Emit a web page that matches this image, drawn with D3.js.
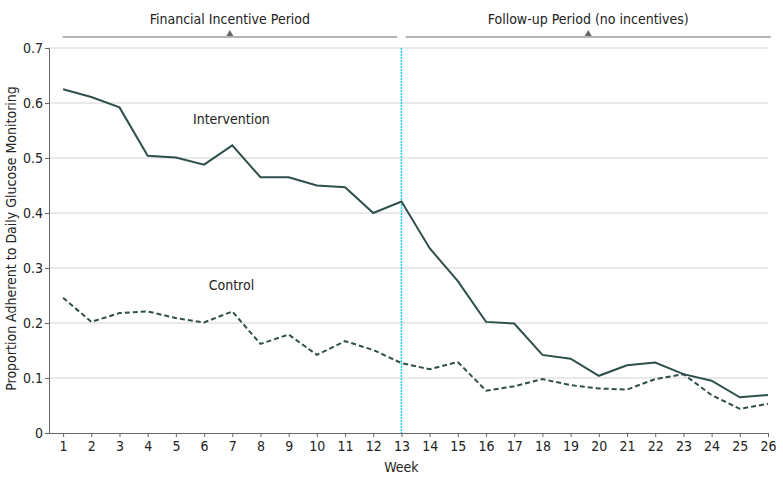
<!doctype html>
<html lang="en">
<head>
  <meta charset="utf-8">
  <title>Glucose Monitoring Adherence</title>
  <script src="https://cdnjs.cloudflare.com/ajax/libs/d3/7.8.5/d3.min.js"></script>
  <style>
    body { margin: 0; background: #fff; }
    svg text { font-family: "DejaVu Sans Condensed", "Liberation Sans", sans-serif; fill: #222; }
  </style>
</head>
<body>
  <div id="chart"></div>
  <script>

// data
var weeks = d3.range(1, 27);
var intervention = [0.625, 0.611, 0.592, 0.504, 0.501, 0.488, 0.523, 0.465, 0.465, 0.450,
                    0.447, 0.400, 0.421, 0.336, 0.276, 0.202, 0.199, 0.142, 0.135, 0.104,
                    0.123, 0.128, 0.107, 0.095, 0.065, 0.069];
var control = [0.246, 0.202, 0.218, 0.221, 0.209, 0.201, 0.221, 0.162, 0.179, 0.142,
               0.167, 0.151, 0.127, 0.116, 0.129, 0.077, 0.085, 0.098, 0.087, 0.081,
               0.079, 0.098, 0.107, 0.069, 0.044, 0.053];
var yTicks = [0, 0.1, 0.2, 0.3, 0.4, 0.5, 0.6, 0.7];
var periods = [
  {label: "Financial Incentive Period", from: 0.98, to: 12.85},
  {label: "Follow-up Period (no incentives)", from: 13.15, to: 26.1}
];
var splitWeek = 13;

var margin = {top: 48, right: 15, bottom: 53, left: 49},
    width = 783 - margin.left - margin.right,
    height = 486 - margin.top - margin.bottom;

var svg = d3.select("#chart")
  .append("svg")
    .attr("width", 783)
    .attr("height", 486)
  .append("g")
    .attr("transform", "translate(" + margin.left + "," + margin.top + ")");

var x = d3.scaleLinear().domain([0.5, 26]).range([0, 719]);
var y = d3.scaleLinear().domain([0, 0.7]).range([height, 0]);

// gridlines
svg.append("g")
  .selectAll("line")
  .data(yTicks.slice(1))
  .enter()
  .append("line")
    .attr("x1", 0)
    .attr("x2", x(26))
    .attr("y1", function(d) { return y(d); })
    .attr("y2", function(d) { return y(d); })
    .attr("stroke", "#d4d4d4")
    .attr("stroke-width", 1.2);

// y axis
var yAxis = svg.append("g")
  .call(d3.axisLeft(y).tickValues(yTicks).tickFormat(function(d) { return d === 0 ? "0" : d3.format(".1f")(d); }).tickSize(4));
yAxis.selectAll("text").style("font-size", "14px").attr("x", -6);
yAxis.selectAll("line, path").attr("stroke", "#666");

// x axis
var xAxis = svg.append("g")
  .attr("transform", "translate(0," + height + ")")
  .call(d3.axisBottom(x).tickValues(weeks).tickFormat(d3.format("d")).tickSize(4).tickSizeOuter(0));
xAxis.selectAll("text").style("font-size", "14px").attr("y", 8);
xAxis.selectAll("line, path").attr("stroke", "#666");

// split marker
svg.append("line")
  .attr("x1", x(splitWeek)).attr("x2", x(splitWeek))
  .attr("y1", y(0.7)).attr("y2", height)
  .attr("stroke", "#1ccfe6")
  .attr("stroke-width", 1.5)
  .attr("stroke-dasharray", "2,1");

// lines
var line = d3.line()
  .x(function(d, i) { return x(weeks[i]); })
  .y(function(d) { return y(d); });

svg.append("path")
  .datum(control)
  .attr("d", line)
  .attr("fill", "none")
  .attr("stroke", "#2e504c")
  .attr("stroke-width", 2)
  .attr("stroke-dasharray", "5,3");

svg.append("path")
  .datum(intervention)
  .attr("d", line)
  .attr("fill", "none")
  .attr("stroke", "#2e504c")
  .attr("stroke-width", 2);

// series labels
svg.append("text")
  .attr("x", x(6.97)).attr("y", y(0.562))
  .attr("text-anchor", "middle")
  .style("font-size", "14px")
  .text("Intervention");
svg.append("text")
  .attr("x", x(6.97)).attr("y", y(0.26))
  .attr("text-anchor", "middle")
  .style("font-size", "14px")
  .text("Control");

// period banner
var banner = svg.selectAll(".period")
  .data(periods)
  .enter()
  .append("g");
banner.append("line")
  .attr("x1", function(d) { return x(d.from); })
  .attr("x2", function(d) { return x(d.to); })
  .attr("y1", -11).attr("y2", -11)
  .attr("stroke", "#b5b5b5")
  .attr("stroke-width", 2);
banner.append("path")
  .attr("d", function(d) {
    var cx = x((d.from + d.to) / 2);
    return "M" + (cx - 3.5) + ",-12L" + (cx + 3.5) + ",-12L" + cx + ",-18Z";
  })
  .attr("fill", "#666");
banner.append("text")
  .attr("x", function(d) { return x((d.from + d.to) / 2); })
  .attr("y", -24)
  .attr("text-anchor", "middle")
  .style("font-size", "14px")
  .text(function(d) { return d.label; });

// axis titles
svg.append("text")
  .attr("x", x(13))
  .attr("y", height + 39)
  .attr("text-anchor", "middle")
  .style("font-size", "14px")
  .text("Week");
svg.append("text")
  .attr("transform", "rotate(-90)")
  .attr("x", -height / 2 + 2)
  .attr("y", -33)
  .attr("text-anchor", "middle")
  .style("font-size", "14px")
  .text("Proportion Adherent to Daily Glucose Monitoring");

</script>
</body>
</html>
